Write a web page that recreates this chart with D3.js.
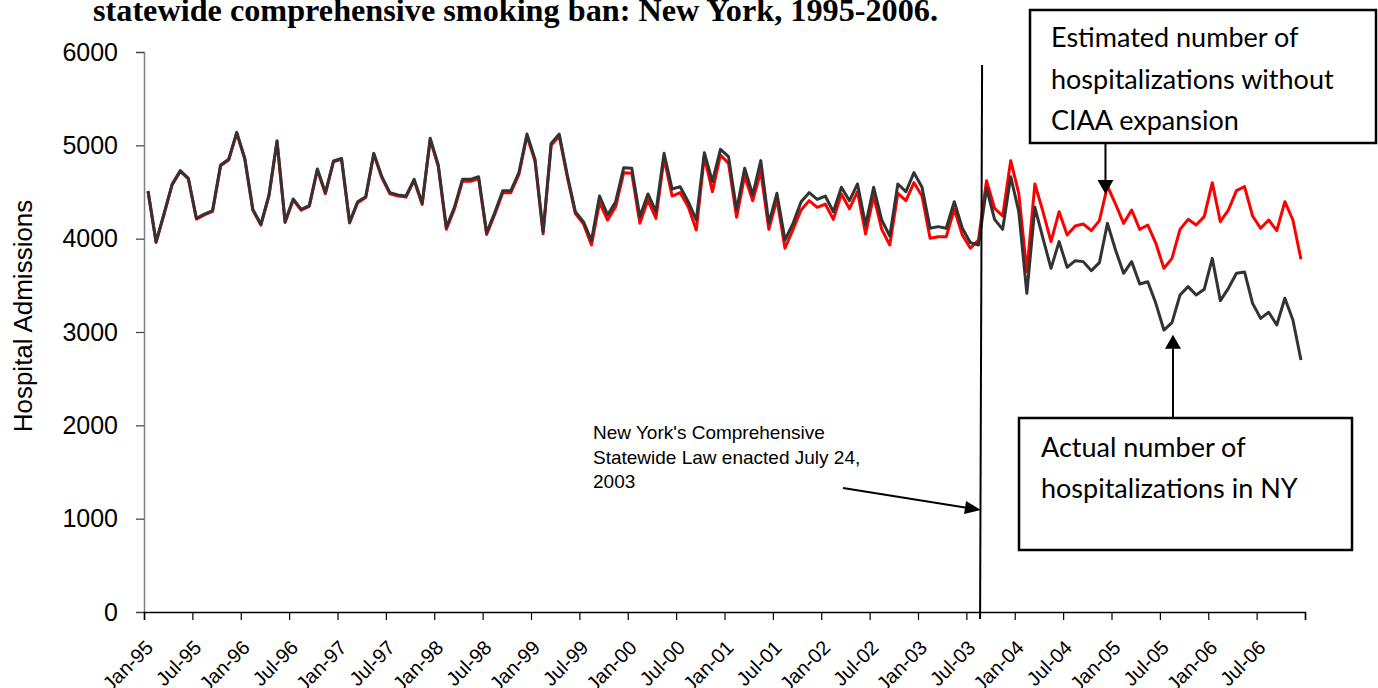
<!DOCTYPE html>
<html><head><meta charset="utf-8">
<script src="https://cdn.jsdelivr.net/npm/d3@7"></script>
<style>body{margin:0;background:#fff;overflow:hidden}</style>
</head><body>
<svg id="c" width="1378" height="688"></svg>
<script>
// ---- data ----
const years = ["95","96","97","98","99","00","01","02","03","04","05","06"];
const monthNames = ["Jan","Feb","Mar","Apr","May","Jun","Jul","Aug","Sep","Oct","Nov","Dec"];
const categories = years.flatMap(y => monthNames.map(m => m + "-" + y));
const tickLabels = ["Jan-95","Jul-95","Jan-96","Jul-96","Jan-97","Jul-97","Jan-98","Jul-98","Jan-99","Jul-99",
  "Jan-00","Jul-00","Jan-01","Jul-01","Jan-02","Jul-02","Jan-03","Jul-03","Jan-04","Jul-04","Jan-05","Jul-05","Jan-06","Jul-06",""];
const yTicks = [0,1000,2000,3000,4000,5000,6000];

const actual = [
4511,3968,4272,4586,4729,4647,4218,4264,4300,4789,4850,5139,
4861,4314,4154,4468,5050,4182,4425,4314,4354,4746,4493,4832,
4861,4179,4396,4450,4914,4664,4493,4468,4457,4636,4379,5075,
4789,4121,4336,4636,4636,4664,4064,4279,4514,4514,4707,5121,
4850,4075,5021,5121,4682,4289,4182,3979,4457,4254,4396,4761,
4754,4236,4479,4289,4914,4532,4557,4396,4200,4921,4611,4957,
4879,4307,4754,4468,4836,4164,4486,3986,4164,4396,4493,4421,
4457,4289,4550,4407,4586,4146,4550,4200,4029,4586,4504,4707,
4550,4111,4129,4111,4396,4111,3957,3932,4539,4207,4100,4664,
4289,3414,4336,4004,3682,3968,3693,3764,3754,3657,3743,4164,
3879,3629,3754,3514,3539,3307,3021,3100,3396,3486,3396,3457,
3789,3336,3468,3629,3643,3307,3146,3211,3075,3361,3129,2700];

const estimated = [
4505,3960,4265,4578,4720,4640,4210,4255,4292,4780,4842,5130,
4852,4305,4145,4460,5040,4172,4415,4305,4345,4738,4482,4822,
4850,4168,4385,4440,4905,4652,4480,4456,4445,4625,4366,5062,
4770,4100,4318,4615,4615,4645,4045,4260,4493,4493,4688,5100,
4830,4052,5000,5100,4662,4268,4160,3932,4386,4200,4343,4707,
4700,4164,4414,4218,4861,4457,4493,4343,4093,4879,4504,4896,
4807,4229,4671,4407,4718,4100,4421,3897,4100,4307,4407,4336,
4371,4207,4479,4321,4504,4050,4457,4100,3932,4486,4407,4600,
4457,4004,4021,4021,4314,4039,3897,3986,4621,4325,4243,4836,
4486,3646,4586,4289,3968,4289,4039,4136,4157,4086,4193,4564,
4371,4164,4307,4100,4146,3950,3682,3789,4100,4207,4146,4236,
4600,4182,4307,4514,4557,4243,4111,4200,4086,4396,4200,3779];

const lawIndex = 103.7; // position of the July 2003 law line on the month axis

// ---- drawing ----
const svg = d3.select("#c");
const x = d3.scaleLinear().domain([0, categories.length]).range([144, 1305]);
const y = d3.scaleLinear().domain([0, 6000]).range([612, 52]);

// title (its first line is cut off in the reference)
svg.append("text").attr("x", 93).attr("y", 21)
  .attr("font-family", "Liberation Serif, 'Times New Roman', serif")
  .attr("font-weight", "bold").attr("font-size", 32)
  .attr("textLength", 845).attr("lengthAdjust", "spacingAndGlyphs")
  .text("statewide comprehensive smoking ban: New York, 1995-2006.");

// y axis
const yAxis = svg.append("g").attr("transform", "translate(144,0)")
  .call(d3.axisLeft(y).tickValues(yTicks).tickSize(8).tickPadding(18).tickFormat(d3.format("d")));
yAxis.select(".domain").attr("stroke", "#808080").attr("stroke-width", 1.5);
yAxis.selectAll(".tick line").attr("stroke", "#404040").attr("stroke-width", 1.2);
yAxis.selectAll("text").attr("font-family", "Liberation Sans, Arial, sans-serif").attr("font-size", 25).attr("fill", "#000");

// x axis
const xAxis = svg.append("g").attr("transform", "translate(0,612)")
  .call(d3.axisBottom(x).tickValues(d3.range(0, categories.length + 1, 6)).tickSize(8)
    .tickFormat((d, i) => tickLabels[i]));
xAxis.select(".domain").attr("stroke", "#000").attr("stroke-width", 1.5);
xAxis.selectAll(".tick line").attr("stroke", "#000").attr("stroke-width", 1.2);
xAxis.selectAll("text")
  .attr("font-family", "Liberation Sans, Arial, sans-serif").attr("font-size", 20).attr("fill", "#000")
  .attr("text-anchor", "end").attr("dy", null)
  .attr("transform", "translate(2,29) rotate(-45)");

// y axis title
svg.append("text").attr("transform", "translate(32,316) rotate(-90)")
  .attr("text-anchor", "middle").attr("font-family", "Liberation Sans, Arial, sans-serif")
  .attr("font-size", 26).text("Hospital Admissions");

// lines
const line = d3.line().x((d, i) => x(i + 0.5)).y(d => y(d));
svg.append("path").datum(estimated).attr("d", line)
  .attr("fill", "none").attr("stroke", "#ff0000").attr("stroke-width", 3).attr("stroke-linejoin", "round");
svg.append("path").datum(actual).attr("d", line)
  .attr("fill", "none").attr("stroke", "#333333").attr("stroke-width", 3).attr("stroke-linejoin", "round");

// law line
svg.append("line").attr("x1", x(lawIndex + 0.25)).attr("y1", 65).attr("x2", x(lawIndex)).attr("y2", 619)
  .attr("stroke", "#000").attr("stroke-width", 2);

function arrow(x1, y1, x2, y2, len, wid) {
  const a = Math.atan2(y2 - y1, x2 - x1);
  const bx = x2 - len * Math.cos(a), by = y2 - len * Math.sin(a);
  svg.append("line").attr("x1", x1).attr("y1", y1).attr("x2", bx).attr("y2", by)
    .attr("stroke", "#000").attr("stroke-width", 2);
  const px = -Math.sin(a) * wid / 2, py = Math.cos(a) * wid / 2;
  svg.append("path").attr("d", `M${x2},${y2}L${bx + px},${by + py}L${bx - px},${by - py}Z`).attr("fill", "#000");
}

// annotation for the law
const annot = svg.append("text").attr("font-family", "Liberation Sans, Arial, sans-serif").attr("font-size", 19);
["New York's Comprehensive", "Statewide Law enacted July 24,", "2003"].forEach((t, i) =>
  annot.append("tspan").attr("x", 593).attr("y", 439 + i * 24.5).text(t));
arrow(843, 488, x(lawIndex + 0.1), 510, 16, 13);

// box 1
svg.append("rect").attr("x", 1030).attr("y", 10).attr("width", 346).attr("height", 133)
  .attr("fill", "#fff").attr("stroke", "#000").attr("stroke-width", 2.5);
const b1 = svg.append("text").attr("font-family", "Lato, 'Open Sans', sans-serif").attr("font-size", 27);
["Estimated number of", "hospitalizations without", "CIAA expansion"].forEach((t, i) =>
  b1.append("tspan").attr("x", 1051).attr("y", 47 + i * 41.5).text(t));
arrow(x(119.5) - 2, 143, x(119.5) - 2, y(estimated[119]) + 8, 14, 16);

// box 2
svg.append("rect").attr("x", 1019).attr("y", 418).attr("width", 333).attr("height", 132)
  .attr("fill", "#fff").attr("stroke", "#000").attr("stroke-width", 2.5);
const b2 = svg.append("text").attr("font-family", "Lato, 'Open Sans', sans-serif").attr("font-size", 27);
["Actual number of", "hospitalizations in NY"].forEach((t, i) =>
  b2.append("tspan").attr("x", 1041).attr("y", 457 + i * 41).text(t));
arrow(x(127.5) + 1, 418, x(127.5) + 1, y(actual[127]) + 12, 14, 16);
</script>
</body></html>
